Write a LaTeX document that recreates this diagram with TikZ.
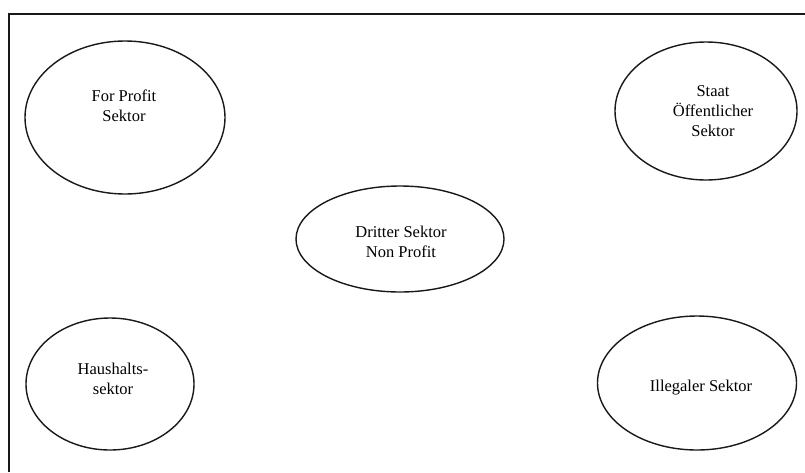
\documentclass[tikz,border=0pt]{standalone}
\usepackage{fontspec}
\setmainfont{Liberation Serif}
\usetikzlibrary{shapes.geometric}
\begin{document}
\begin{tikzpicture}[x=1pt,y=-1pt,
  sektor/.style={draw=black!90,line width=1.4pt,ellipse,inner sep=0pt},
  lbl/.style={align=center,font=\fontsize{16.5}{19.8}\selectfont,inner sep=0pt}]
\useasboundingbox (0,0) rectangle (805,472);
\fill[white] (0,0) rectangle (805,472);
\coordinate (fbl) at (9,472);
\coordinate (ftl) at (9,14);
\coordinate (ftr) at (805,14);
\draw[line width=2pt,black!90] (fbl) -- (ftl) -- (ftr);
\node[sektor,minimum width=200pt,minimum height=153pt] (fp) at (125,117.5) {};
\node[sektor,minimum width=182pt,minimum height=138pt] (st) at (706,111) {};
\node[sektor,minimum width=208pt,minimum height=106pt] (dr) at (400,239) {};
\node[sektor,minimum width=168pt,minimum height=132pt] (hh) at (110,384) {};
\node[sektor,minimum width=199pt,minimum height=134pt] (il) at (697,383) {};
\node[lbl] (tfp) at (124,106) {For Profit\\Sektor};
\node[lbl] (tst) at (713,111) {Staat\\Öffentlicher\\Sektor};
\node[lbl] (tdr) at (401,242) {Dritter Sektor\\Non Profit};
\node[lbl] (thh) at (113,379) {Haushalts-\\sektor};
\node[lbl] (til) at (701,388) {Illegaler Sektor};
\end{tikzpicture}
\end{document}
